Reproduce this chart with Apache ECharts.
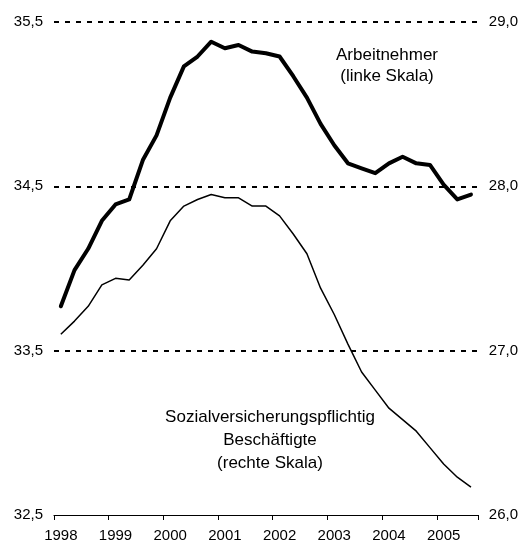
<!DOCTYPE html>
<html>
<head>
<meta charset="utf-8">
<script src="https://cdn.jsdelivr.net/npm/echarts@6/dist/echarts.min.js"></script>
<style>
  html, body { margin: 0; padding: 0; background: #fff; }
  #chart { width: 521px; height: 545px; }
</style>
</head>
<body>
<div id="chart"></div>
<script>
// quarters 1998 Q1 .. 2005 Q3
const quarters = [
  '1998 Q1', '1998 Q2', '1998 Q3', '1998 Q4',
  '1999 Q1', '1999 Q2', '1999 Q3', '1999 Q4',
  '2000 Q1', '2000 Q2', '2000 Q3', '2000 Q4',
  '2001 Q1', '2001 Q2', '2001 Q3', '2001 Q4',
  '2002 Q1', '2002 Q2', '2002 Q3', '2002 Q4',
  '2003 Q1', '2003 Q2', '2003 Q3', '2003 Q4',
  '2004 Q1', '2004 Q2', '2004 Q3', '2004 Q4',
  '2005 Q1', '2005 Q2', '2005 Q3'
];

// Arbeitnehmer (linke Skala), Mio.
const arbeitnehmer = [
  33.77, 33.99, 34.12, 34.29, 34.39, 34.42, 34.66, 34.81,
  35.04, 35.23, 35.29, 35.38, 35.34, 35.36, 35.32, 35.31,
  35.29, 35.17, 35.04, 34.88, 34.75, 34.64, 34.61, 34.58,
  34.64, 34.68, 34.64, 34.63, 34.51, 34.42, 34.45
];

// Sozialversicherungspflichtig Beschäftigte (rechte Skala), Mio.
const sozialBeschaeftigte = [
  27.10, 27.18, 27.27, 27.40, 27.44, 27.43, 27.52, 27.62,
  27.79, 27.88, 27.92, 27.95, 27.93, 27.93, 27.88, 27.88,
  27.82, 27.71, 27.59, 27.38, 27.22, 27.04, 26.87, 26.76,
  26.65, 26.58, 26.51, 26.41, 26.31, 26.23, 26.17
];

const leftTicks = [32.5, 33.5, 34.5, 35.5];
const rightTicks = [26.0, 27.0, 28.0, 29.0];

const fontFamily = '"Liberation Sans", Arial, sans-serif';
const fmt = (v) => v.toFixed(1).replace('.', ',');

const chart = echarts.init(document.getElementById('chart'));

const option = {
  animation: false,
  backgroundColor: '#fff',
  grid: { left: 54, right: 43, top: 22, bottom: 30 },
  xAxis: {
    type: 'category',
    data: quarters,
    boundaryGap: true,
    axisLine: { show: true, lineStyle: { color: '#000', width: 1.2 } },
    axisTick: { show: true, interval: 3, length: 5, lineStyle: { color: '#000', width: 1 } },
    axisLabel: {
      interval: 3,
      margin: 13,
      color: '#000',
      fontSize: 15,
      fontFamily: fontFamily,
      formatter: (v) => v.slice(0, 4)
    },
    splitLine: { show: false },
    z: 5
  },
  yAxis: [{
    // 0.5 steps so that ticks start at 32,5; only every other one is shown
    type: 'value',
    min: leftTicks[0],
    max: leftTicks[leftTicks.length - 1],
    interval: 0.5,
    axisLine: { show: false },
    axisTick: { show: false },
    axisLabel: {
      margin: 11,
      color: '#000',
      fontSize: 15,
      fontFamily: fontFamily,
      formatter: (v) => (leftTicks.some(t => Math.abs(t - v) < 1e-6) ? fmt(v) : '')
    },
    splitLine: {
      show: true,
      showMinLine: false,
      // lines at 33,0 / 34,0 / 35,0 hidden
      lineStyle: { color: ['rgba(0,0,0,0)', '#000'], width: 2, type: [5, 6] }
    }
  }, {
    type: 'value',
    position: 'right',
    min: rightTicks[0],
    max: rightTicks[rightTicks.length - 1],
    interval: 1,
    axisLine: { show: false },
    axisTick: { show: false },
    axisLabel: {
      margin: 11,
      color: '#000',
      fontSize: 15,
      fontFamily: fontFamily,
      formatter: (v) => fmt(v)
    },
    splitLine: { show: false }
  }],
  series: [{
    name: 'Arbeitnehmer',
    type: 'line',
    yAxisIndex: 0,
    data: arbeitnehmer,
    symbol: 'none',
    lineStyle: { color: '#000', width: 4, join: 'round', cap: 'round' },
    z: 3
  }, {
    name: 'Sozialversicherungspflichtig Beschäftigte',
    type: 'line',
    yAxisIndex: 1,
    data: sozialBeschaeftigte,
    symbol: 'none',
    lineStyle: { color: '#000', width: 1.5 },
    z: 2
  }],
  graphic: [{
    type: 'text',
    x: 387,
    y: 66,
    style: {
      text: 'Arbeitnehmer\n(linke Skala)',
      font: '17px ' + fontFamily,
      fill: '#000',
      align: 'center',
      verticalAlign: 'middle',
      lineHeight: 21
    }
  }, {
    type: 'text',
    x: 270,
    y: 440,
    style: {
      text: 'Sozialversicherungspflichtig\nBeschäftigte\n(rechte Skala)',
      font: '17px ' + fontFamily,
      fill: '#000',
      align: 'center',
      verticalAlign: 'middle',
      lineHeight: 23
    }
  }]
};

chart.setOption(option);
</script>
</body>
</html>
